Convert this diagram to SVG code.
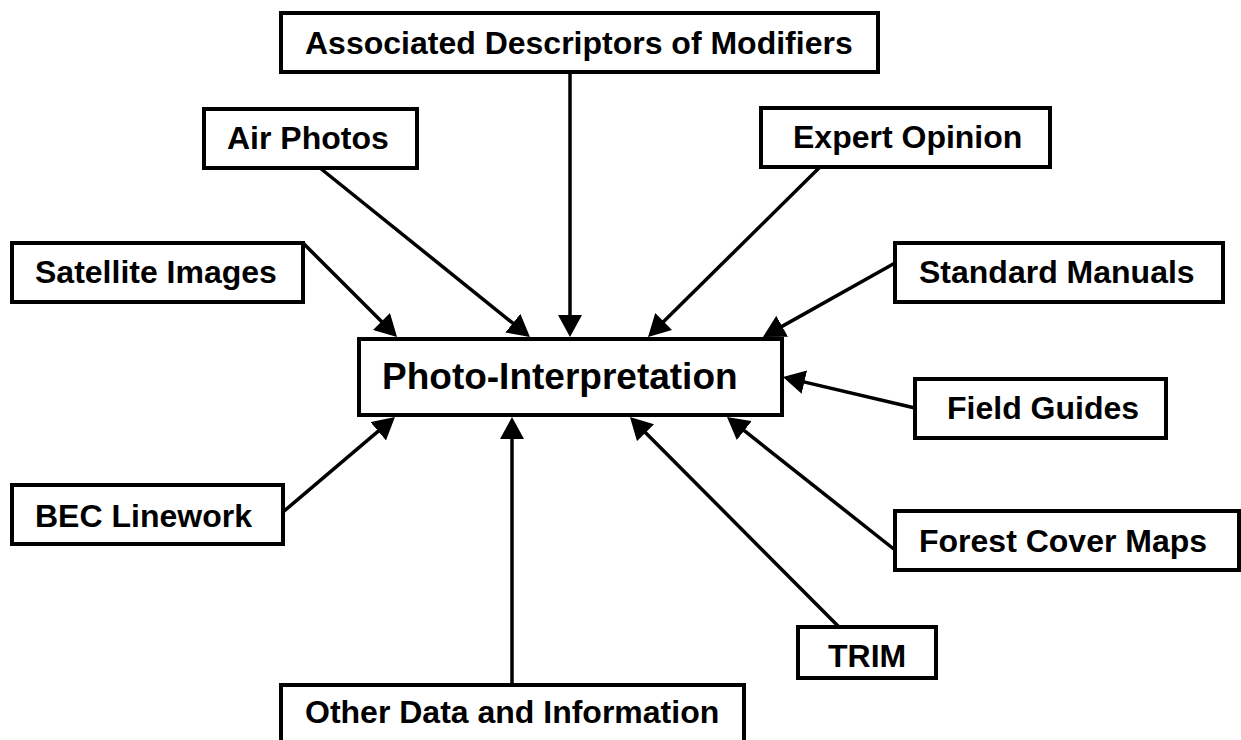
<svg xmlns="http://www.w3.org/2000/svg" width="1241" height="740" viewBox="0 0 1241 740">
<style>
.box{fill:#fff;stroke:#000;stroke-width:4;stroke-linejoin:miter}
.lbl{font-family:"Liberation Sans",Arial,sans-serif;font-weight:bold;font-size:32px;fill:#000}
.big{font-size:37px}
.con{stroke:#000;stroke-width:3.5;fill:none;marker-end:url(#ah)}
</style>
<defs>
<marker id="ah" markerUnits="userSpaceOnUse" viewBox="0 0 22 24" refX="16" refY="12" markerWidth="22" markerHeight="24" orient="auto">
<path d="M0,0 L22,12 L0,24 z" fill="#000"/>
</marker>
</defs>
<rect width="1241" height="740" fill="#fff"/>
<g id="connectors">
<line class="con" x1="570" y1="72" x2="570" y2="331"/>
<line class="con" x1="320" y1="168" x2="525.3" y2="333.2"/>
<line class="con" x1="303" y1="243" x2="392.8" y2="332.8"/>
<line class="con" x1="820" y1="167" x2="652.3" y2="332.8"/>
<line class="con" x1="895" y1="263" x2="768.2" y2="334.1"/>
<line class="con" x1="915" y1="408" x2="788.8" y2="378.4"/>
<line class="con" x1="895" y1="550" x2="731.7" y2="420.7"/>
<line class="con" x1="839" y1="627" x2="634.2" y2="421.3"/>
<line class="con" x1="512" y1="685" x2="512" y2="423"/>
<line class="con" x1="283" y1="512" x2="390.4" y2="420.9"/>
</g>
<g id="assoc"><rect class="box" x="281" y="13" width="597" height="59"/><text class="lbl" x="305" y="54">Associated Descriptors of Modifiers</text></g>
<g id="air"><rect class="box" x="204" y="109" width="213" height="59"/><text class="lbl" x="227" y="149">Air Photos</text></g>
<g id="expert"><rect class="box" x="761" y="108" width="289" height="59"/><text class="lbl" x="793" y="148">Expert Opinion</text></g>
<g id="satellite"><rect class="box" x="12" y="243" width="291" height="59"/><text class="lbl" x="35" y="283">Satellite Images</text></g>
<g id="standard"><rect class="box" x="895" y="243" width="328" height="59"/><text class="lbl" x="919" y="283">Standard Manuals</text></g>
<g id="pi"><rect class="box" x="359" y="339" width="423" height="76"/><text class="lbl big" x="382" y="389">Photo-Interpretation</text></g>
<g id="field"><rect class="box" x="915" y="379" width="251" height="59"/><text class="lbl" x="947" y="419">Field Guides</text></g>
<g id="bec"><rect class="box" x="12" y="485" width="271" height="59"/><text class="lbl" x="35" y="527">BEC Linework</text></g>
<g id="forest"><rect class="box" x="895" y="511" width="344" height="59"/><text class="lbl" x="919" y="552">Forest Cover Maps</text></g>
<g id="trim"><rect class="box" x="798" y="627" width="138" height="51"/><text class="lbl" x="828" y="667">TRIM</text></g>
<g id="other"><rect class="box" x="281" y="685" width="463" height="70"/><text class="lbl" x="305" y="723">Other Data and Information</text></g>
</svg>
